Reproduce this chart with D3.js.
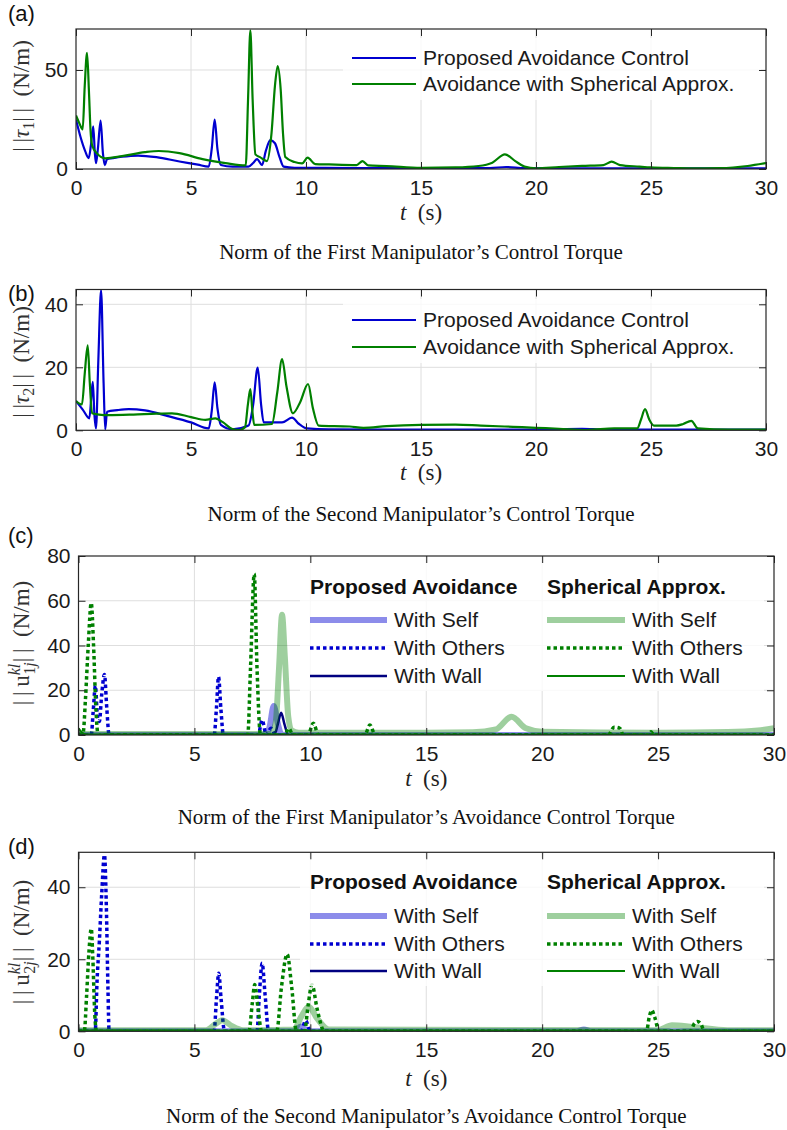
<!DOCTYPE html>
<html>
<head>
<meta charset="utf-8">
<script src="https://cdn.jsdelivr.net/npm/d3@7"></script>
<style>
  body { margin: 0; background: #fff; }
  svg { display: block; }
</style>
</head>
<body>
<div id="chart"></div>
<script>
// ---- data (time in s, value in N/m) ----
const timeTicks = [0, 5, 10, 15, 20, 25, 30];

const tau1Proposed = [[0,25],[0.2,16],[0.4,9],[0.55,5.5],[0.65,12],[0.75,21.5],[0.82,8],[0.87,3],[0.95,10],[1.07,24.5],[1.17,8],[1.25,2],[1.35,5],[1.6,5.5],[2.0,6.2],[2.7,6.8],[3.5,6],[4.5,3.8],[5.3,2.2],[5.77,1.2],[5.9,10],[6.03,25],[6.15,10],[6.3,2],[6.8,1.2],[7.5,1.2],[7.7,3],[7.87,5],[8.09,2],[8.25,9],[8.45,14.6],[8.65,13],[8.85,6],[9.03,1.2],[9.5,0.6],[12,0.5],[15,0.4],[18,0.5],[18.7,1],[19.5,0.4],[22,0.3],[25,0.3],[28,0.3],[30,0.3]];
const tau1Sphere = [[0,27],[0.15,23],[0.29,20],[0.38,42],[0.48,58.7],[0.56,40],[0.63,20],[0.7,12],[0.9,8],[1.28,5.4],[2,6.5],[3,8.5],[3.6,9.1],[4.5,8],[5.5,5],[6.5,3],[7.38,1.8],[7.48,35],[7.58,70],[7.68,35],[7.8,7.4],[8.0,6],[8.3,4],[8.5,18],[8.65,42],[8.77,52],[8.9,40],[9.0,18],[9.1,6],[9.5,3.5],[9.83,2.8],[10.07,5.7],[10.4,2.5],[11,2.3],[12.2,2],[12.46,4],[12.7,1.8],[13.5,1.5],[15,0.6],[16.5,0.8],[17.5,1.5],[18.1,3.2],[18.65,7.4],[19.1,4],[19.5,1.2],[20,0.3],[21,1],[22,1.6],[22.93,2],[23.29,3.7],[23.65,2],[24.5,1.2],[25,0.8],[26,0.5],[27,0.3],[28,0.4],[29.2,1.5],[30,3]];

const tau2Proposed = [[0,9.3],[0.3,6.5],[0.58,3.8],[0.66,10],[0.73,15.4],[0.8,5],[0.87,0.6],[0.97,22],[1.09,44.5],[1.2,15],[1.27,0.3],[1.35,5.9],[1.8,6.4],[2.29,6.7],[3,6.3],[4,4.5],[5,2.5],[5.77,0.6],[5.9,6],[6.03,15.2],[6.15,7],[6.3,1.7],[6.8,0.3],[7.5,1.5],[7.7,8],[7.9,19.9],[8.05,8],[8.16,2.5],[8.96,2.5],[9.39,4],[9.7,2],[10.04,0.6],[11,0.3],[15,0.2],[20,0.2],[22,0.5],[23,0.2],[30,0.2]];
const tau2Sphere = [[0,9.3],[0.26,8.2],[0.38,18],[0.51,27],[0.6,15],[0.7,5.4],[1.0,5],[1.4,4.8],[2.5,5],[3.5,5.3],[4.17,5.4],[5,4.2],[5.62,3.3],[6.06,3.8],[6.4,2.5],[6.8,0.4],[7.1,0.1],[7.35,1],[7.47,8],[7.58,13.1],[7.67,6],[7.75,1.7],[8.52,2],[8.75,12],[8.96,22.6],[9.15,14],[9.43,5.4],[9.75,9],[10.09,14.7],[10.3,7],[10.55,1.5],[11.9,1.2],[12.5,0.8],[13.5,1.3],[15,1.7],[16.5,1.8],[17.6,1.5],[19,1.1],[20,0.8],[21,0.5],[22.2,0.1],[23.4,0.6],[24.4,0.6],[24.57,3.5],[24.74,6.7],[24.92,3.5],[25.13,1.5],[26.1,1.5],[26.4,2],[26.75,3],[27.04,0.6],[28.4,0.2],[30,0.2]];

const uProposedSelf1 = [[0,0],[8.1,0],[8.25,4],[8.42,13],[8.6,5],[8.75,0.3],[9,0],[30,0]];
const uProposedOthers1 = [[0,0],[0.55,0],[0.63,10],[0.73,22],[0.82,8],[0.9,6],[1.0,18],[1.12,27],[1.22,12],[1.32,0],[5.85,0],[5.95,12],[6.04,26],[6.14,12],[6.25,0],[7.75,0],[7.92,6.7],[8.1,0],[8.3,3],[8.5,0],[30,0]];
const uProposedWall1 = [[0,0],[8.45,0],[8.6,5],[8.74,10],[8.88,5],[9.05,0],[30,0]];
const uSphereSelf1 = [[0,0.5],[8.3,0.5],[8.5,5],[8.65,30],[8.78,53.7],[8.9,35],[9.05,8],[9.2,2],[9.5,1],[15,1],[17,1.2],[18,2.5],[18.68,8.2],[19.3,3],[20,1.5],[25,1],[28,1.3],[29.3,2],[30,3]];
const uSphereOthers1 = [[0,0],[0.2,1],[0.3,16],[0.42,40],[0.55,59],[0.65,40],[0.75,12],[0.85,0],[7.3,0],[7.42,30],[7.58,72],[7.7,30],[7.85,0],[8.9,0],[9.07,3],[9.25,0],[9.9,0],[10.13,5.3],[10.35,0],[12.35,0],[12.57,4.5],[12.8,0],[22.85,0],[23.1,3.5],[23.35,3],[23.5,0],[24.6,0],[24.7,1.5],[24.8,0],[30,0]];
const uSphereWall1 = [[0,3],[0.25,0.5],[0.5,0.2],[30,0.2]];

const uProposedSelf2 = [[0,0],[9.3,0],[9.6,1.3],[9.9,0],[21.5,0],[21.8,0.5],[22.1,0],[30,0]];
const uProposedOthers2 = [[0,0],[0.72,0],[0.8,14],[0.9,25],[1.0,38],[1.12,49],[1.2,35],[1.27,12],[1.32,0],[5.85,0],[5.95,9],[6.05,16.1],[6.15,9],[6.3,0],[7.7,0],[7.8,10],[7.92,18.9],[8.05,10],[8.2,0],[9.6,0],[9.8,3],[10.0,0],[30,0]];
const uProposedWall2 = [[0,0],[30,0]];
const uSphereSelf2 = [[0,0.3],[5.5,0.3],[5.9,2],[6.2,3.1],[6.6,1.5],[7.1,0.3],[9.3,0.5],[9.6,4],[9.93,6.8],[10.3,3.5],[10.8,0.5],[25,0.3],[25.6,1.7],[26.5,1.2],[28,0.3],[30,0.3]];
const uSphereOthers2 = [[0,0],[0.25,0],[0.35,10],[0.45,22],[0.55,28.5],[0.62,20],[0.7,5],[0.78,0],[7.35,0],[7.5,8],[7.6,13],[7.75,6],[7.9,0],[8.55,0],[8.75,12],[9.0,21.4],[9.2,12],[9.4,0],[9.75,0],[9.9,7],[10.07,12.9],[10.3,6],[10.6,0],[24.5,0],[24.62,4],[24.73,5.9],[24.85,4],[25.05,0],[26.4,0],[26.55,2],[26.7,2.7],[26.85,2],[27.0,0],[30,0]];
const uSphereWall2 = [[0,0.2],[30,0.2]];

const torqueLegend = ['Proposed Avoidance Control', 'Avoidance with Spherical Approx.'];
const groupTitles = ['Proposed Avoidance', 'Spherical Approx.'];
const groupItems = ['With Self', 'With Others', 'With Wall'];

// ---- styles ----
const SANS = "'Liberation Sans', Arial, sans-serif";
const SERIF = "'Liberation Serif', 'Times New Roman', serif";
const AXIS_COLOR = '#262626';
const GRID_COLOR = '#dedede';
const BLUE = '#0000d0';
const GREEN = '#008000';
const NAVY = '#000080';

const styleSelfP = { stroke: BLUE, width: 6, opacity: 0.45 };
const styleOthersP = { stroke: BLUE, width: 3.5, dash: '3.5,3' };
const styleWallP = { stroke: NAVY, width: 2.5 };
const styleSelfS = { stroke: GREEN, width: 6, opacity: 0.38 };
const styleOthersS = { stroke: GREEN, width: 3.5, dash: '3.5,3' };
const styleWallS = { stroke: GREEN, width: 2 };

const svg = d3.select('#chart').append('svg').attr('width', 787).attr('height', 1130);

const panels = [
  {
    id: 'a', left: 76, right: 766, top: 29, bottom: 169, yMax: 70.7, yTicks: [0, 50],
    tag: 'a', tagY: 21, yLabel: { sub: '1', kind: 'tau' }, labelCy: 96, xLabelY: 220, captionY: 259,
    caption: 'Norm of the First Manipulator\u2019s Control Torque',
    series: [
      { data: tau1Proposed, stroke: BLUE, width: 2.2 },
      { data: tau1Sphere, stroke: GREEN, width: 2.2 },
    ],
    legend: 'simple', legendY: [58, 84], legendBox: [343, 38, 418, 62],
  },
  {
    id: 'b', left: 76, right: 766, top: 289.5, bottom: 430.3, yMax: 44.7, yTicks: [0, 20, 40],
    tag: 'b', tagY: 301, yLabel: { sub: '2', kind: 'tau' }, labelCy: 362, xLabelY: 480, captionY: 521,
    caption: 'Norm of the Second Manipulator\u2019s Control Torque',
    series: [
      { data: tau2Proposed, stroke: BLUE, width: 2.2 },
      { data: tau2Sphere, stroke: GREEN, width: 2.2 },
    ],
    legend: 'simple', legendY: [320, 347], legendBox: [343, 299, 418, 64],
  },
  {
    id: 'c', left: 78.5, right: 774, top: 556, bottom: 735, yMax: 80, yTicks: [0, 20, 40, 60, 80],
    tag: 'c', tagY: 543, yLabel: { sub: '1j', kind: 'u' }, labelCy: 643, xLabelY: 786, captionY: 824,
    caption: 'Norm of the First Manipulator\u2019s Avoidance Control Torque',
    series: [
      { data: uProposedSelf1, ...styleSelfP },
      { data: uProposedOthers1, ...styleOthersP },
      { data: uProposedWall1, ...styleWallP },
      { data: uSphereSelf1, ...styleSelfS },
      { data: uSphereOthers1, ...styleOthersS },
      { data: uSphereWall1, ...styleWallS },
    ],
    legend: 'grouped', legendTitleY: 587, legendY: [620, 648, 676], legendBox: [300, 563, 464, 128],
  },
  {
    id: 'd', left: 78.5, right: 774, top: 852.3, bottom: 1031.3, yMax: 49.7, yTicks: [0, 20, 40],
    tag: 'd', tagY: 854, yLabel: { sub: '2j', kind: 'u' }, labelCy: 942, xLabelY: 1086, captionY: 1123,
    caption: 'Norm of the Second Manipulator\u2019s Avoidance Control Torque',
    series: [
      { data: uProposedSelf2, ...styleSelfP },
      { data: uProposedOthers2, ...styleOthersP },
      { data: uProposedWall2, ...styleWallP },
      { data: uSphereSelf2, ...styleSelfS },
      { data: uSphereOthers2, ...styleOthersS },
      { data: uSphereWall2, ...styleWallS },
    ],
    legend: 'grouped', legendTitleY: 882, legendY: [916, 944, 971], legendBox: [300, 858, 464, 128],
  },
];

panels.forEach(drawPanel);

function styleLine(sel, s) {
  sel.attr('fill', 'none')
    .attr('stroke', s.stroke)
    .attr('stroke-width', s.width)
    .attr('stroke-opacity', s.opacity ?? 1)
    .attr('stroke-dasharray', s.dash ?? null)
    .attr('stroke-linejoin', 'round');
}

function drawPanel(p) {
  const x = d3.scaleLinear().domain([0, 30]).range([p.left, p.right]);
  const y = d3.scaleLinear().domain([0, p.yMax]).range([p.bottom, p.top]);
  const g = svg.append('g');

  g.append('clipPath').attr('id', `clip-${p.id}`)
    .append('rect')
    .attr('x', p.left).attr('y', p.top)
    .attr('width', p.right - p.left).attr('height', p.bottom - p.top);

  // grid
  g.append('g').selectAll('line').data(timeTicks.slice(1, -1)).join('line')
    .attr('x1', (d) => x(d)).attr('x2', (d) => x(d))
    .attr('y1', p.top).attr('y2', p.bottom)
    .attr('stroke', GRID_COLOR).attr('stroke-width', 1);
  g.append('g').selectAll('line').data(p.yTicks.filter((v) => v > 0 && v < p.yMax)).join('line')
    .attr('x1', p.left).attr('x2', p.right)
    .attr('y1', (d) => y(d)).attr('y2', (d) => y(d))
    .attr('stroke', GRID_COLOR).attr('stroke-width', 1);

  // data lines
  const line = d3.line().x((d) => x(d[0])).y((d) => y(d[1])).curve(d3.curveMonotoneX);
  const plot = g.append('g').attr('clip-path', `url(#clip-${p.id})`);
  p.series.forEach((s) => {
    plot.append('path').datum(s.data).attr('d', line).call(styleLine, s);
  });

  // legend
  if (p.legend === 'simple') drawSimpleLegend(g, p);
  else drawGroupedLegend(g, p);

  // axes: ticks inward on all four sides
  const tickLen = 7;
  const axes = [
    { axis: d3.axisBottom(x).tickValues(timeTicks).tickPadding(11), at: `translate(0,${p.bottom})`, labels: true },
    { axis: d3.axisTop(x).tickValues(timeTicks), at: `translate(0,${p.top})`, labels: false },
    { axis: d3.axisLeft(y).tickValues(p.yTicks).tickPadding(8), at: `translate(${p.left},0)`, labels: true },
    { axis: d3.axisRight(y).tickValues(p.yTicks), at: `translate(${p.right},0)`, labels: false },
  ];
  axes.forEach((a) => {
    a.axis.tickSizeInner(-tickLen).tickSizeOuter(0);
    if (!a.labels) a.axis.tickFormat('');
    const ag = g.append('g').attr('transform', a.at).call(a.axis);
    ag.select('.domain').remove();
    ag.selectAll('line').attr('stroke', AXIS_COLOR);
    ag.selectAll('text').attr('fill', '#1a1a1a').attr('font-family', SANS).attr('font-size', 21);
  });

  g.append('rect')
    .attr('x', p.left).attr('y', p.top)
    .attr('width', p.right - p.left).attr('height', p.bottom - p.top)
    .attr('fill', 'none').attr('stroke', AXIS_COLOR).attr('stroke-width', 1.2);

  // panel tag
  g.append('text').attr('x', 8).attr('y', p.tagY)
    .attr('font-family', SANS).attr('font-size', 22).attr('fill', '#111')
    .text(`(${p.tag})`);

  // y label (rotated, math style)
  const yl = g.append('text')
    .attr('transform', `translate(29,${p.labelCy}) rotate(-90)`)
    .attr('text-anchor', 'middle')
    .attr('font-family', SERIF).attr('font-size', 23).attr('fill', '#333');
  if (p.yLabel.kind === 'tau') {
    yl.append('tspan').text('|\u2009|');
    yl.append('tspan').attr('font-style', 'italic').text('\u03c4');
    yl.append('tspan').attr('font-size', 16).attr('dy', 5).text(p.yLabel.sub);
    yl.append('tspan').attr('dy', -5).text('|\u2009|\u2002(N/m)');
  } else {
    yl.append('tspan').text('|\u2009|\u2009u');
    yl.append('tspan').attr('font-size', 16).attr('font-style', 'italic').attr('dy', -9).text('kl');
    yl.append('tspan').attr('font-size', 16).attr('dx', -11).attr('dy', 15).text(p.yLabel.sub[0]);
    yl.append('tspan').attr('font-size', 16).attr('font-style', 'italic').text(p.yLabel.sub[1]);
    yl.append('tspan').attr('dy', -6).text('|\u2009|\u2002(N/m)');
  }

  // x label
  const xl = g.append('text')
    .attr('x', (p.left + p.right) / 2).attr('y', p.xLabelY)
    .attr('text-anchor', 'middle')
    .attr('font-family', SERIF).attr('font-size', 23).attr('fill', '#222');
  xl.append('tspan').attr('font-style', 'italic').text('t');
  xl.append('tspan').text('\u2002(s)');

  // caption
  g.append('text')
    .attr('x', (p.left + p.right) / 2).attr('y', p.captionY)
    .attr('text-anchor', 'middle')
    .attr('font-family', SERIF).attr('font-size', 21).attr('fill', '#111')
    .text(p.caption);
}

function drawSimpleLegend(g, p) {
  const [bx, by, bw, bh] = p.legendBox;
  g.append('rect').attr('x', bx).attr('y', by).attr('width', bw).attr('height', bh)
    .attr('fill', '#fff').attr('fill-opacity', 0.8);
  p.series.forEach((s, i) => {
    const ly = p.legendY[i];
    g.append('line').attr('x1', 352).attr('x2', 416).attr('y1', ly).attr('y2', ly).call(styleLine, s);
    g.append('text').attr('x', 423).attr('y', ly).attr('dy', '0.35em')
      .attr('font-family', SANS).attr('font-size', 21).attr('fill', '#1a1a1a')
      .text(torqueLegend[i]);
  });
}

function drawGroupedLegend(g, p) {
  const [bx, by, bw, bh] = p.legendBox;
  g.append('rect').attr('x', bx).attr('y', by).attr('width', bw).attr('height', bh)
    .attr('fill', '#fff').attr('fill-opacity', 0.8);
  const cols = [{ x0: 310, x1: 387, tx: 394 }, { x0: 547, x1: 625, tx: 632 }];
  cols.forEach((c, ci) => {
    g.append('text').attr('x', c.x0).attr('y', p.legendTitleY).attr('dy', '0.35em')
      .attr('font-family', SANS).attr('font-size', 21).attr('font-weight', 'bold').attr('fill', '#111')
      .text(groupTitles[ci]);
    groupItems.forEach((label, ri) => {
      const s = p.series[ci * 3 + ri];
      const ly = p.legendY[ri];
      g.append('line').attr('x1', c.x0).attr('x2', c.x1).attr('y1', ly).attr('y2', ly).call(styleLine, s);
      g.append('text').attr('x', c.tx).attr('y', ly).attr('dy', '0.35em')
        .attr('font-family', SANS).attr('font-size', 21).attr('fill', '#1a1a1a')
        .text(label);
    });
  });
}
</script>
</body>
</html>
